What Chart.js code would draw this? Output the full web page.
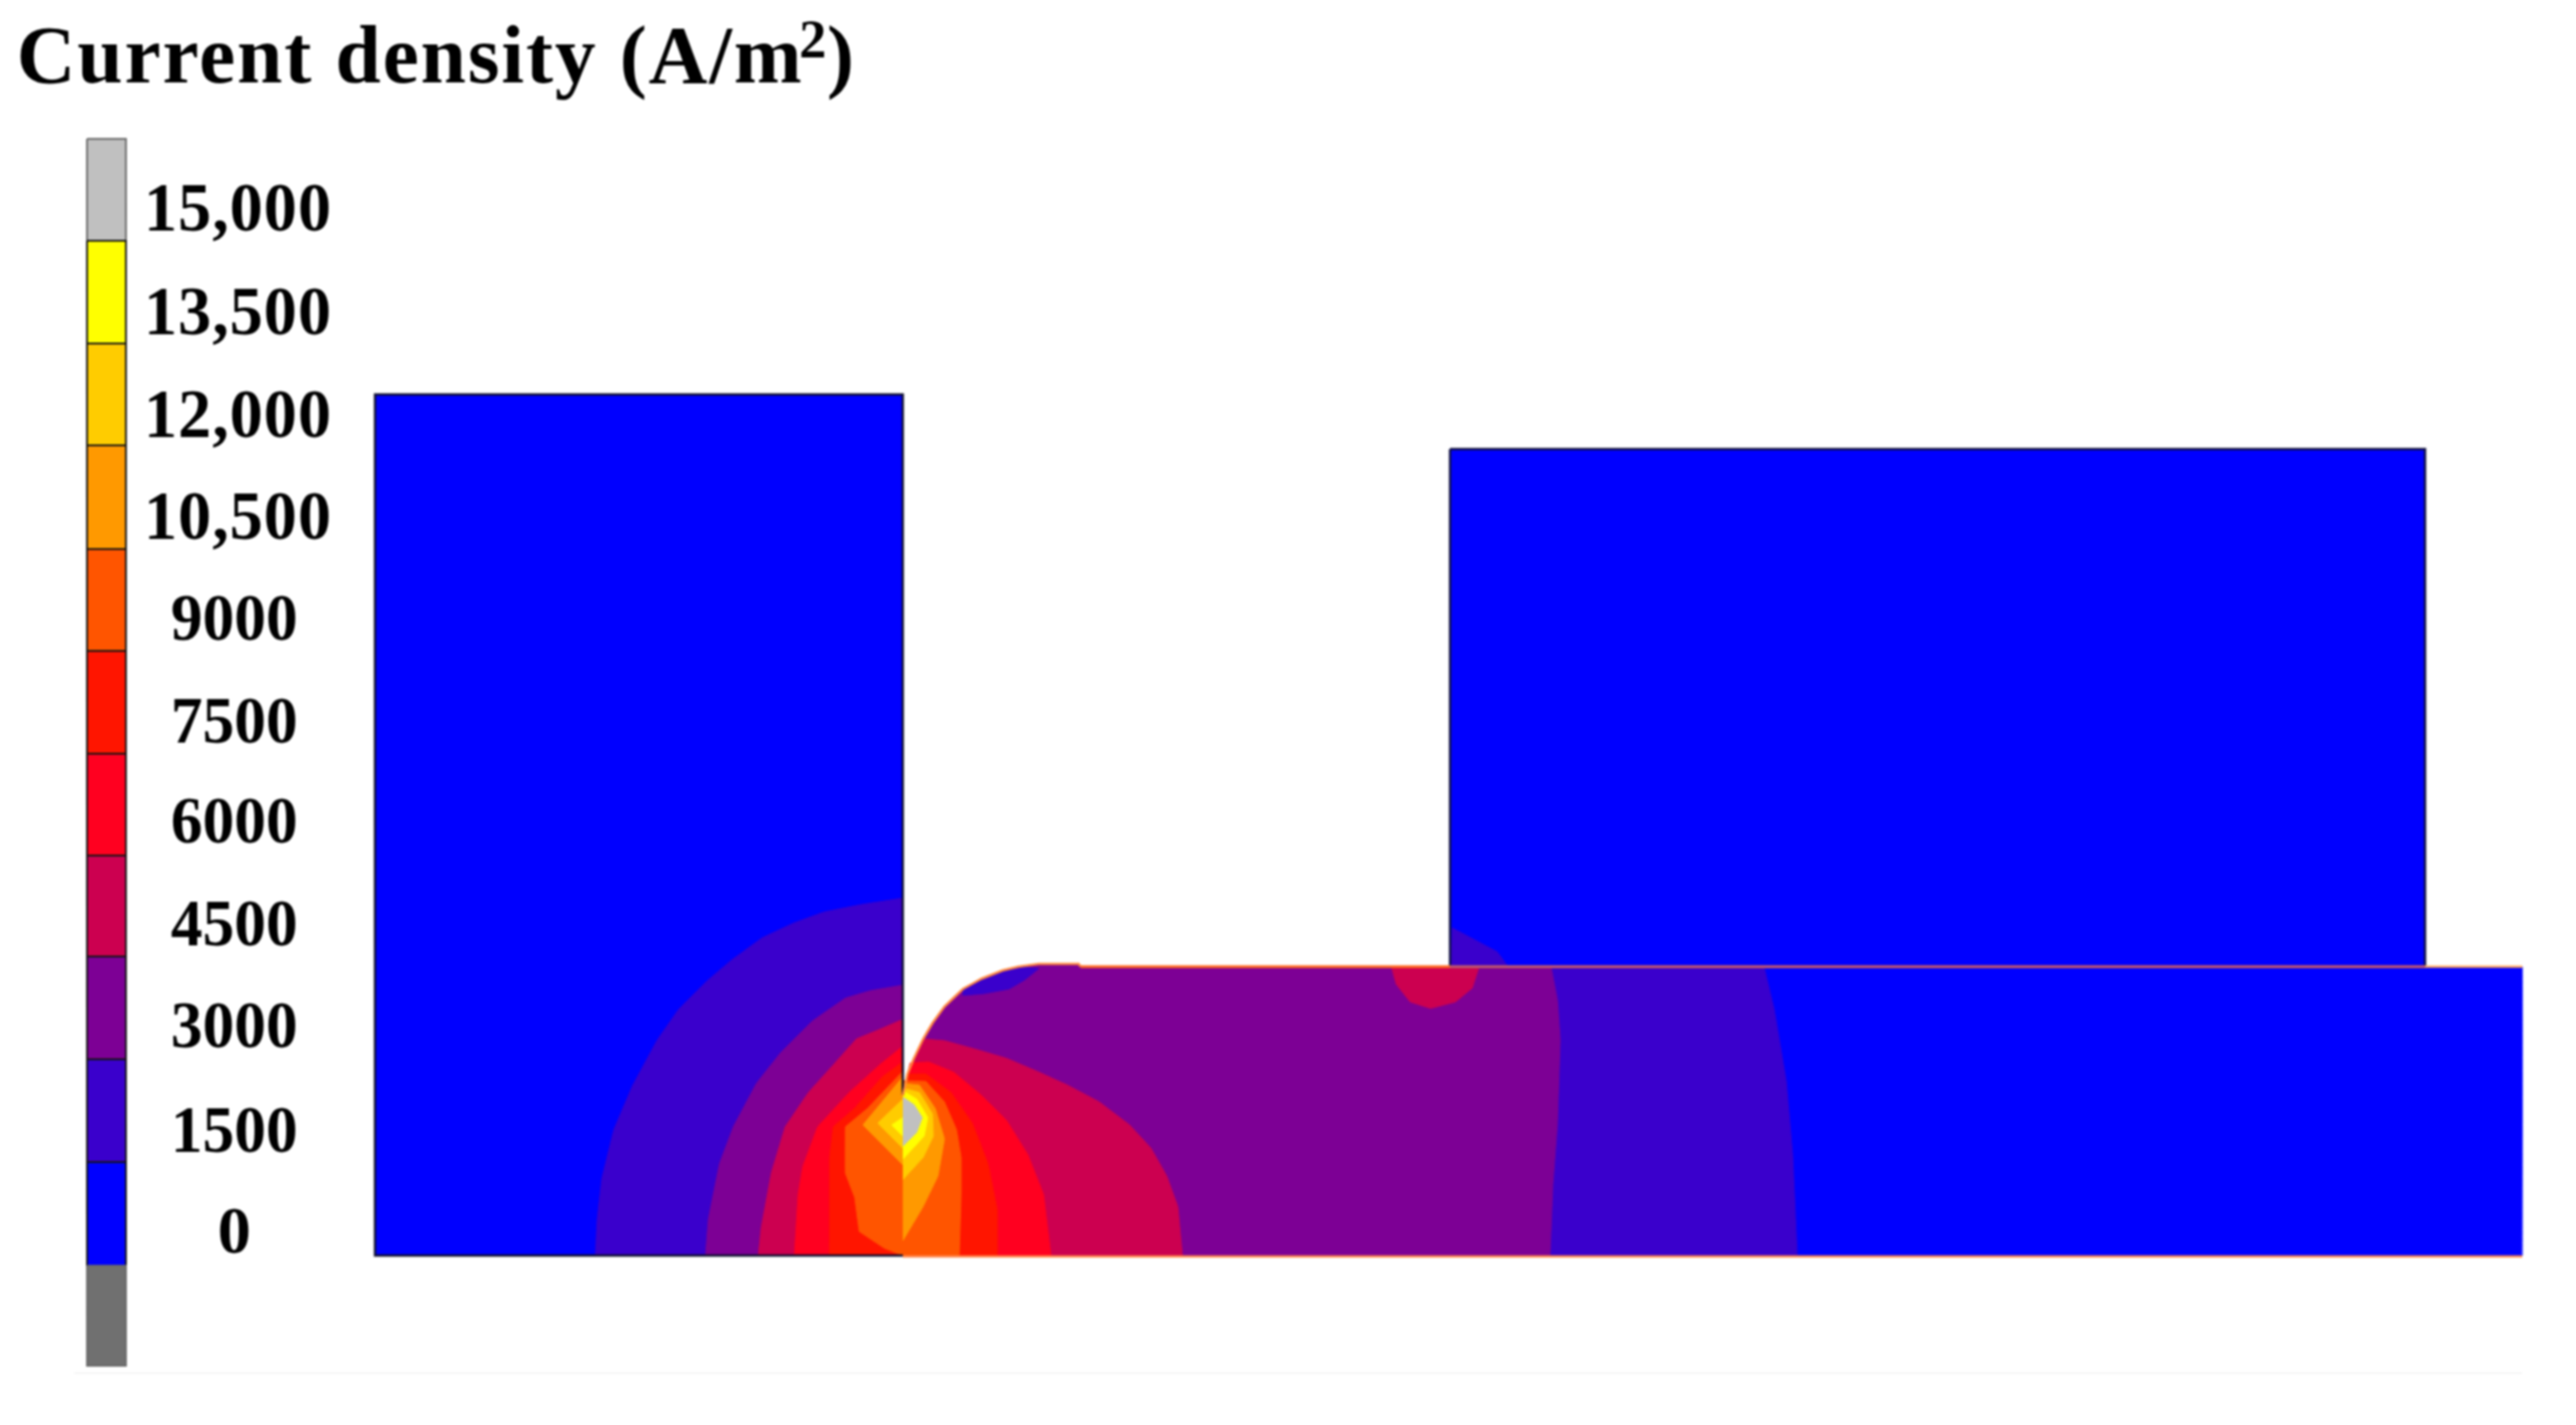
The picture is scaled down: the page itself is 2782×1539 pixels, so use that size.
<!DOCTYPE html>
<html>
<head>
<meta charset="utf-8">
<title>Current density</title>
<script src="https://cdn.jsdelivr.net/npm/chart.js@4/dist/chart.umd.js"></script>
<style>
    html, body { margin: 0; padding: 0; background: #ffffff; }
    #wrap { width: 2782px; height: 1539px; }
    canvas { filter: blur(0.8px); }
</style>
</head>
<body>
<div id="wrap"><canvas id="chart"></canvas></div>
<script>
const titleParts = ['Current density (A/m', '2', ')'];

// colour bar, top to bottom
const barLabels = ['15,000', '13,500', '12,000', '10,500', '9000', '7500', '6000', '4500', '3000', '1500', '0'];
const barLabelBase = [249, 361, 472, 582, 691, 802, 910, 1021, 1131, 1244, 1353];
const barEdges = [150, 260, 371, 481, 593, 703, 814, 924, 1033, 1144, 1255, 1367, 1475];
const barX = [94, 136];

const GREY = '#c0c0c0', YELLOW = '#ffff00', AMBER = '#ffcc00', ORANGE = '#ff9900', DEEP = '#ff5500',
      VERMIL = '#ff1500', RED = '#ff0020', CRIMSON = '#cc0050', PURPLE = '#7d0095', INDIGO = '#3a00cc',
      BLUE = '#0000ff', DARK = '#707070';
const barColors = [GREY, YELLOW, AMBER, ORANGE, DEEP, VERMIL, RED, CRIMSON, PURPLE, INDIGO, BLUE, DARK];

// geometry outlines
const leftBlock = [[405, 426], [975, 426], [975, 1356], [405, 1356]];
const rightBlock = [[1566, 485], [2619, 485], [2619, 1044], [1566, 1044]];
const filletEdge = [[975, 1183], [978, 1170], [980, 1160], [987, 1143], [997, 1122], [1007, 1105], [1020, 1087],
    [1040, 1068], [1060, 1057], [1083, 1048], [1100, 1044], [1122, 1041], [1165, 1041], [1167, 1044]];
const slabRest = [[2724, 1044], [2724, 1356], [975, 1356]];

// contour bands, left block
const left1500 = [[643, 1356], [645, 1317], [650, 1273], [663, 1220], [683, 1173], [710, 1123], [733, 1090], [763, 1060], [790, 1037], [823, 1013], [857, 997], [890, 985], [930, 977], [975, 970], [975, 1356]];
const left3000 = [[762, 1356], [765, 1317], [777, 1257], [792, 1217], [817, 1170], [843, 1137], [877, 1103], [913, 1078], [940, 1070], [975, 1064], [975, 1356]];
const left4500 = [[819, 1356], [822, 1327], [833, 1267], [848, 1217], [873, 1180], [900, 1150], [925, 1122], [947, 1113], [975, 1101], [975, 1356]];
const left6000 = [[858, 1356], [862, 1290], [867, 1260], [883, 1217], [917, 1180], [950, 1150], [975, 1130], [975, 1356]];
const left7500 = [[896, 1356], [896, 1250], [900, 1217], [923, 1197], [953, 1163], [975, 1147], [975, 1356]];
const left9000 = [[975, 1356], [955, 1348], [928, 1330], [923, 1293], [913, 1267], [913, 1217], [937, 1197], [975, 1157]];
const left10500 = [[975, 1258], [932, 1215], [975, 1163]];
const left12000 = [[975, 1240], [948, 1213], [975, 1187]];
const left13500 = [[975, 1227], [963, 1215], [975, 1207]];

// contour bands, slab
const slab1500 = [...filletEdge, [1905, 1044], [1916, 1090], [1929, 1167], [1936, 1247], [1941, 1356], [975, 1356]];
const slab3000 = [...filletEdge, [1675, 1044], [1682, 1080], [1685, 1123], [1682, 1213], [1677, 1280], [1674, 1356], [975, 1356]];
const slabPocket = [[1040, 1068], [1040, 1075], [1063, 1073], [1090, 1068], [1107, 1058], [1122, 1046], [1100, 1044], [1083, 1048], [1060, 1057]];
const slab4500 = [...filletEdge.slice(0, 5), [1020, 1124], [1053, 1133], [1087, 1143], [1120, 1157], [1153, 1172], [1187, 1190], [1220, 1215], [1243, 1240], [1260, 1270], [1272, 1303], [1277, 1356], [975, 1356]];
const slab6000 = [...filletEdge.slice(0, 3), [983, 1148], [1003, 1147], [1030, 1158], [1060, 1183], [1087, 1210], [1110, 1247], [1127, 1290], [1135, 1356], [975, 1356]];
const slab7500 = [...filletEdge.slice(0, 3), [1000, 1160], [1027, 1180], [1050, 1213], [1067, 1257], [1077, 1307], [1077, 1356], [975, 1356]];
const slab9000 = [[975, 1167], [1000, 1168], [1020, 1190], [1033, 1220], [1038, 1250], [1038, 1290], [1036, 1356], [975, 1356]];
const slab10500 = [[975, 1170], [993, 1172], [1010, 1197], [1020, 1230], [1013, 1270], [997, 1303], [975, 1340]];
const slab12000 = [[975, 1175], [993, 1180], [1007, 1203], [1008, 1227], [997, 1250], [975, 1274]];
const slab13500 = [[975, 1178], [990, 1187], [1002, 1207], [998, 1227], [975, 1252]];
const slab15000 = [[975, 1185], [987, 1193], [996, 1207], [990, 1223], [975, 1238]];

// hot spot and spread under the right block
const contactSpot = [[1503, 1045], [1508, 1063], [1523, 1082], [1545, 1089], [1572, 1082], [1590, 1067], [1597, 1045]];
const rightPatch = [[1568, 1002], [1617, 1028], [1628, 1043], [1566, 1043]];

const faintRule = [[80, 1483], [2724, 1483]];

function shape(points, color) {
    return {
        data: points.map(p => ({ x: p[0], y: p[1] })),
        showLine: true,
        fill: 'shape',
        backgroundColor: color,
        borderColor: color,
        borderWidth: 1,
        pointRadius: 0,
        tension: 0.0001
    };
}

function outline(points, color, width) {
    return {
        data: points.map(p => ({ x: p[0], y: p[1] })),
        showLine: true,
        fill: false,
        borderColor: color,
        borderWidth: width,
        pointRadius: 0,
        tension: 0.0001
    };
}

const datasets = [
    outline(faintRule, '#f6f6f6', 2),
    shape(leftBlock, BLUE),
    shape(left1500, INDIGO),
    shape(left3000, PURPLE),
    shape(left4500, CRIMSON),
    shape(left6000, RED),
    shape(left7500, VERMIL),
    shape(left9000, DEEP),
    shape(left10500, ORANGE),
    shape(left12000, AMBER),
    shape(left13500, YELLOW),
    shape(rightBlock, BLUE),
    shape(rightPatch, INDIGO),
    shape([...filletEdge, ...slabRest], BLUE),
    shape(slab1500, INDIGO),
    shape(slab3000, PURPLE),
    shape(slabPocket, INDIGO),
    shape(contactSpot, CRIMSON),
    shape(slab4500, CRIMSON),
    shape(slab6000, RED),
    shape(slab7500, VERMIL),
    shape(slab9000, DEEP),
    shape(slab10500, ORANGE),
    shape(slab12000, AMBER),
    shape(slab13500, YELLOW),
    shape(slab15000, GREY),
    // edges
    outline([[975, 1356], [405, 1356], [405, 426], [975, 426], [975, 1183]], '#101030', 2.5),
    outline(rightBlock.concat([rightBlock[0]]), '#101040', 2.5),
    outline(filletEdge, '#ff8a40', 2.5),
    outline([[1167, 1044], [1566, 1044]], '#ff6a20', 3),
    outline([[1566, 1044], [2619, 1044]], '#c85a70', 3),
    outline([[2619, 1044], [2724, 1044]], '#ffa860', 2.5),
    outline([[975, 1357], [2724, 1357]], '#ff8a50', 2.5)
];

// colour bar cells, drawn last
barColors.forEach((c, i) => {
    const top = barEdges[i], bottom = barEdges[i + 1];
    datasets.push(shape([[barX[0], top], [barX[1], top], [barX[1], bottom], [barX[0], bottom]], c));
});
barColors.forEach((c, i) => {
    const top = barEdges[i], bottom = barEdges[i + 1];
    const edge = (i === 0 || i === barColors.length - 1) ? '#6a6a6a' : '#141414';
    datasets.push(outline([[barX[0], top], [barX[1], top], [barX[1], bottom], [barX[0], bottom], [barX[0], top]], edge, 2));
});

datasets.forEach((d, i) => { d.order = -i; });

const textPlugin = {
    id: 'chartText',
    afterDraw(chart) {
        const ctx = chart.ctx;
        const x = chart.scales.x, y = chart.scales.y;
        ctx.save();
        ctx.fillStyle = '#000000';
        ctx.textBaseline = 'alphabetic';
        ctx.textAlign = 'center';
        barLabels.forEach((label, i) => {
            const wide = label.length > 4;
            ctx.font = (wide ? 'bold 73px' : 'bold 72px') + ' "Liberation Serif"';
            ctx.letterSpacing = wide ? '1px' : '0px';
            const cx = x.getPixelForValue(wide ? 257 : 253);
            ctx.fillText(label, cx, y.getPixelForValue(barLabelBase[i]), wide ? 203 : 137);
        });
        ctx.textAlign = 'left';
        ctx.font = 'bold 88px "Liberation Serif"';
        ctx.letterSpacing = '2px';
        ctx.fillText(titleParts[0], x.getPixelForValue(18), y.getPixelForValue(89));
        ctx.fillText(titleParts[2], x.getPixelForValue(893), y.getPixelForValue(89));
        ctx.font = 'bold 59px "Liberation Serif"';
        ctx.letterSpacing = '0px';
        ctx.fillText(titleParts[1], x.getPixelForValue(863), y.getPixelForValue(62));
        ctx.restore();
    }
};

new Chart(document.getElementById('chart'), {
    type: 'scatter',
    data: { datasets: datasets },
    options: {
        responsive: true,
        maintainAspectRatio: false,
        animation: false,
        layout: { padding: 0 },
        plugins: { legend: { display: false }, tooltip: { enabled: false } },
        scales: {
            x: { type: 'linear', display: false, min: 0, max: 2782 },
            y: { type: 'linear', display: false, min: 0, max: 1539, reverse: true }
        }
    },
    plugins: [textPlugin]
});
</script>
</body>
</html>
